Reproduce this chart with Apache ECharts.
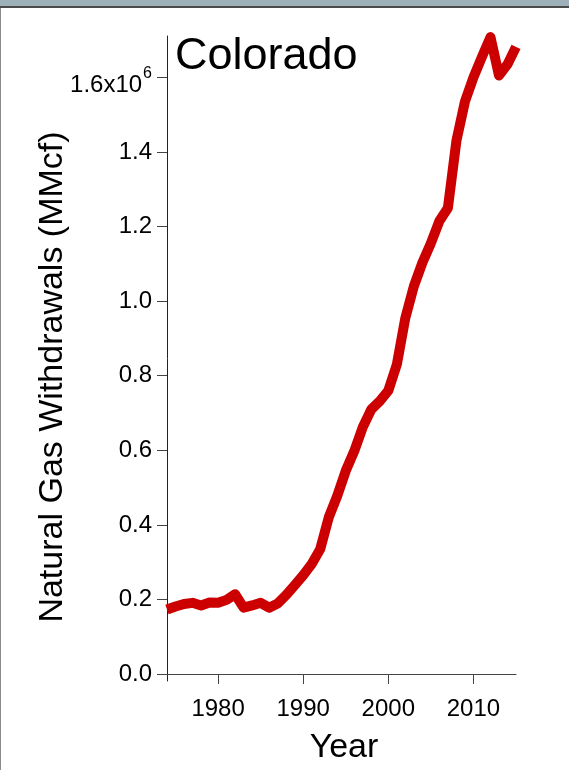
<!DOCTYPE html>
<html>
<head>
<meta charset="utf-8">
<script src="https://cdn.jsdelivr.net/npm/echarts@6/dist/echarts.min.js"></script>
<style>
  html, body { margin: 0; padding: 0; background: #ffffff; }
  #chart { width: 569px; height: 770px; }
</style>
</head>
<body>
<div id="chart"></div>
<script>
// Colorado natural gas gross withdrawals, million cubic feet per year
var years = [1974, 1975, 1976, 1977, 1978, 1979, 1980, 1981, 1982, 1983,
             1984, 1985, 1986, 1987, 1988, 1989, 1990, 1991, 1992, 1993,
             1994, 1995, 1996, 1997, 1998, 1999, 2000, 2001, 2002, 2003,
             2004, 2005, 2006, 2007, 2008, 2009, 2010, 2011, 2012, 2013,
             2014, 2015];
var withdrawals = [173000, 181000, 188000, 191000, 184000, 192000, 191000, 199000, 214000, 178000,
                   184000, 191000, 178000, 189000, 212000, 238000, 265000, 295000, 335000, 420000,
                   478000, 545000, 598000, 662000, 710000, 732000, 760000, 830000, 955000, 1040000,
                   1103000, 1155000, 1215000, 1250000, 1430000, 1535000, 1600000, 1655000, 1708000, 1605000,
                   1635000, 1682000];
var yearTicks = [1980, 1990, 2000, 2010];
var withdrawalTicks = [0, 200000, 400000, 600000, 800000, 1000000, 1200000, 1400000, 1600000];

var points = years.map(function (y, i) { return [y, withdrawals[i]]; });

var chart = echarts.init(document.getElementById('chart'), null, { renderer: 'canvas' });
var font = '"Liberation Sans", Arial, sans-serif';

chart.setOption({
  backgroundColor: '#ffffff',
  animation: false,
  grid: { left: 167, right: 53, top: 36, bottom: 83, containLabel: false },
  xAxis: {
    type: 'value',
    min: 1974,
    max: 2015,
    splitLine: { show: false },
    axisLine: { show: true, lineStyle: { color: '#444', width: 1 } },
    axisTick: { show: true, length: 10, customValues: yearTicks, lineStyle: { color: '#444' } },
    axisLabel: {
      customValues: yearTicks,
      margin: 16,
      fontFamily: font,
      fontSize: 24,
      color: '#000',
      formatter: function (v) { return String(v); }
    },
    name: 'Year',
    nameLocation: 'middle',
    nameGap: 67,
    nameTextStyle: { fontFamily: font, fontSize: 34, color: '#000', verticalAlign: 'middle', padding: [0, 0, 0, 5] }
  },
  yAxis: {
    type: 'value',
    min: -18600,
    max: 1711000,
    splitLine: { show: false },
    axisLine: { show: true, lineStyle: { color: '#222', width: 1 } },
    axisTick: { show: true, length: 10, customValues: withdrawalTicks, lineStyle: { color: '#444' } },
    axisLabel: {
      customValues: withdrawalTicks,
      margin: 15,
      fontFamily: font,
      fontSize: 24,
      color: '#000',
      formatter: function (v) {
        if (v === 1600000) return '{base|1.6x10}{sup|6}';
        return (v / 1e6).toFixed(1);
      },
      rich: {
        base: { fontFamily: font, fontSize: 24, color: '#000', lineHeight: 24, padding: [16, 0, 0, 0] },
        sup: { fontFamily: font, fontSize: 16, color: '#000', lineHeight: 16, verticalAlign: 'top', padding: [0, 0, 0, 1] }
      }
    }
  },
  graphic: [
    { type: 'rect', shape: { x: 0, y: 0, width: 569, height: 6 }, style: { fill: '#9eb0b8' }, silent: true },
    { type: 'rect', shape: { x: 0, y: 6, width: 569, height: 2 }, style: { fill: '#4a4a4a' }, silent: true },
    { type: 'rect', shape: { x: 0, y: 8, width: 1, height: 762 }, style: { fill: '#8c8c8c' }, silent: true },
    {
      type: 'text', left: 175, top: 34,
      style: { text: 'Colorado', fontFamily: font, fontSize: 45, fill: '#000' }
    },
    {
      type: 'text', x: 53, y: 377, rotation: Math.PI / 2,
      style: {
        text: 'Natural Gas Withdrawals (MMcf)', fontFamily: font, fontSize: 34, fill: '#000',
        align: 'center', verticalAlign: 'middle'
      }
    }
  ],
  series: [{
    type: 'line',
    data: points,
    showSymbol: false,
    smooth: false,
    lineStyle: { color: '#cc0000', width: 10, join: 'round', cap: 'butt' },
    emphasis: { disabled: true }
  }]
});
</script>
</body>
</html>
